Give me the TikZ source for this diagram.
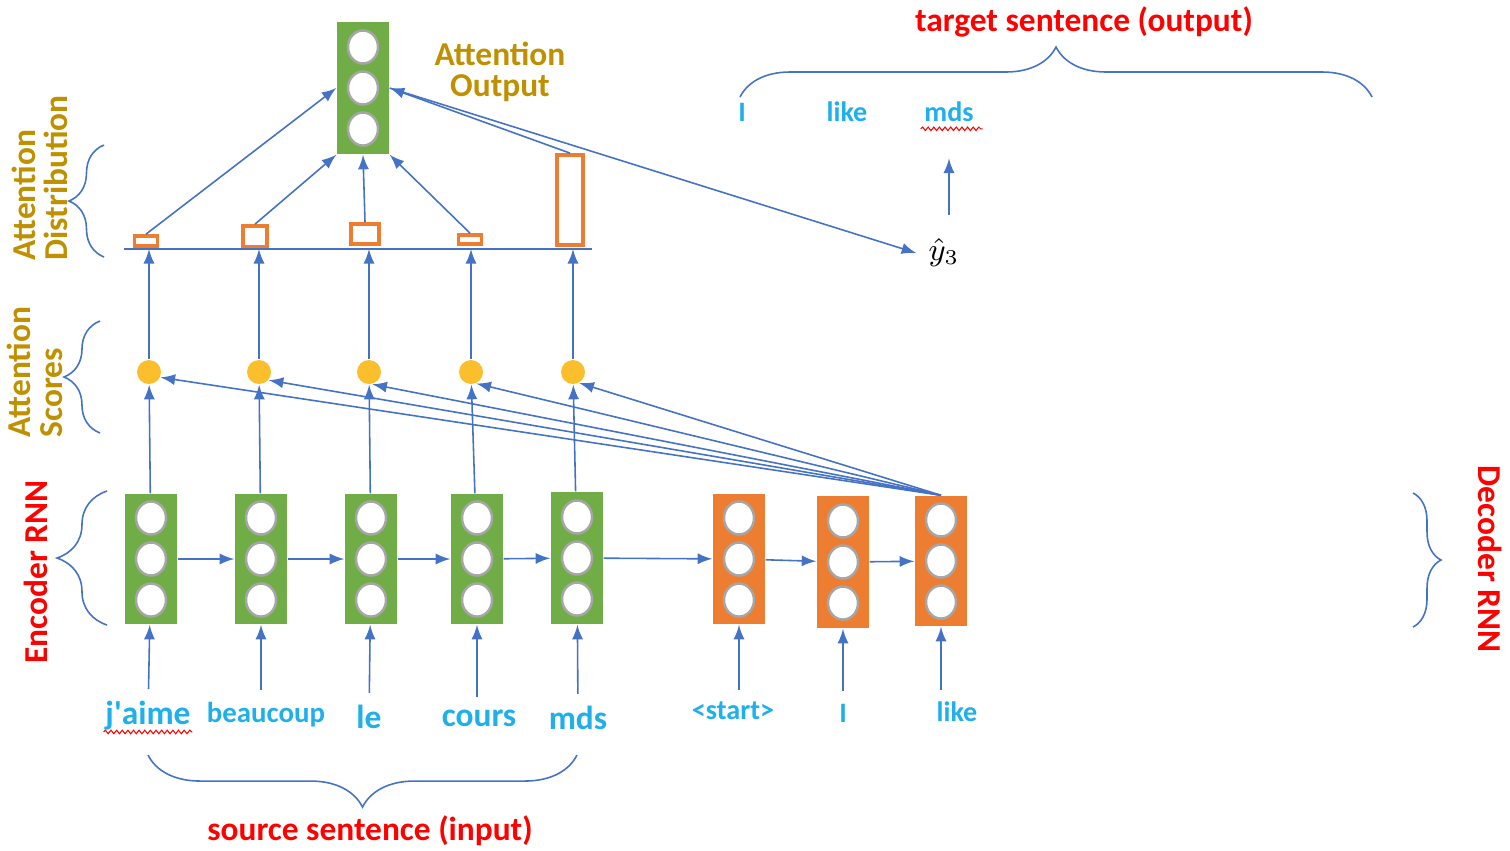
\documentclass[tikz,border=0pt]{standalone}
\usepackage{fontspec}
\setmainfont{Carlito}
\usetikzlibrary{decorations.pathreplacing,decorations.pathmorphing}
\definecolor{encgreen}{HTML}{70AD47}
\definecolor{decorange}{HTML}{ED7D31}
\definecolor{linkblue}{HTML}{4472C4}
\definecolor{wordblue}{HTML}{1FB0EC}
\definecolor{headgold}{HTML}{BF9000}
\definecolor{scoreyellow}{HTML}{FBBF2D}
\definecolor{ringgray}{HTML}{A6A6A6}
\definecolor{labelred}{HTML}{FF0000}

\begin{document}
\begin{tikzpicture}[x=0.01cm,y=-0.01cm,
    link/.style={linkblue, line width=0.45pt, -latex},
    bracket/.style={linkblue, line width=0.45pt, decorate, decoration={brace, amplitude=#1}},
    cellbase/.style={minimum width=0.52cm, minimum height=1.3cm, inner sep=0pt,
      path picture={
        \draw[ringgray, fill=white, line width=0.7pt] ([yshift=0.41cm]path picture bounding box.center) ellipse (0.15cm and 0.165cm);
        \draw[ringgray, fill=white, line width=0.7pt] (path picture bounding box.center) ellipse (0.15cm and 0.165cm);
        \draw[ringgray, fill=white, line width=0.7pt] ([yshift=-0.41cm]path picture bounding box.center) ellipse (0.15cm and 0.165cm);
      }},
    enccell/.style={cellbase, fill=encgreen},
    deccell/.style={cellbase, fill=decorange},
    score/.style={circle, fill=scoreyellow, minimum width=0.24cm, inner sep=0pt},
    attbar/.style={draw=decorange, line width=1.1pt, fill=white, inner sep=0pt, anchor=south},
    word/.style={wordblue, font=\bfseries\fontsize{9.5}{11}\selectfont},
    smallword/.style={wordblue, font=\bfseries\fontsize{8}{10}\selectfont},
    headline/.style={headgold, font=\bfseries\fontsize{9.5}{10.5}\selectfont, align=left},
    redline/.style={labelred, font=\bfseries\fontsize{9.5}{11}\selectfont},
    squiggle/.style={labelred, line width=0.3pt, decorate, decoration={snake, amplitude=0.5pt, segment length=1.6pt}}]
    \useasboundingbox (0,0) rectangle (1510,850);
    \coordinate (BaseL) at (124,249);
    \coordinate (BaseR) at (592,249);
    % encoder and decoder
    \node[enccell] (e1) at (151,559) {};
    \node[enccell] (e2) at (261,559) {};
    \node[enccell] (e3) at (371,559) {};
    \node[enccell] (e4) at (477,559) {};
    \node[enccell, minimum height=1.32cm] (e5) at (577,558) {};
    \node[deccell] (d1) at (739,559) {};
    \node[deccell, minimum height=1.32cm] (d2) at (843,562) {};
    \node[deccell] (d3) at (941,561) {};
    \node[enccell, minimum height=1.32cm] (out) at (363,88) {};
    % attention scores and distribution
    \node[score] (s1) at (149,372) {};
    \node[score] (s2) at (259,372) {};
    \node[score] (s3) at (369,372) {};
    \node[score] (s4) at (471,372) {};
    \node[score] (s5) at (573,372) {};
    \node[attbar, minimum width=0.23cm, minimum height=0.1cm] (a1) at (146,248) {};
    \node[attbar, minimum width=0.24cm, minimum height=0.21cm] (a2) at (255,249) {};
    \node[attbar, minimum width=0.28cm, minimum height=0.2cm] (a3) at (365,246) {};
    \node[attbar, minimum width=0.23cm, minimum height=0.09cm] (a4) at (470,246) {};
    \node[attbar, minimum width=0.26cm, minimum height=0.9cm] (a5) at (570,247) {};
    \draw[linkblue, line width=0.6pt] (BaseL) -- (BaseR);% Draw baseline
    % words
    \node[word] (w1) at (148,716) {j\textquotesingle aime};
    \node[smallword, font=\bfseries\fontsize{8.2}{10}\selectfont] (w2) at (266,715) {beaucoup};
    \node[word] (w3) at (369,717) {le};
    \node[word] (w4) at (479,718) {cours};
    \node[word] (w5) at (578,718) {mds};
    \node[smallword] (v1) at (733,711) {<start>};
    \node[smallword] (v2) at (843,713) {I};
    \node[smallword] (v3) at (957,712) {like};
    \node[smallword] (t1) at (742,112) {I};
    \node[smallword] (t2) at (847,112) {like};
    \node[smallword] (t3) at (949,112) {mds};
    \node[font=\fontsize{9}{10}\selectfont] (yhat) at (944,253) {$\hat{y}_3$};
    \draw[squiggle] ([xshift=3pt,yshift=-2pt]w1.base west) -- ([xshift=-3pt,yshift=-2pt]w1.base east);
    \draw[squiggle] ([xshift=2.5pt,yshift=-2pt]t3.base west) -- ([xshift=-1pt,yshift=-2pt]t3.base east);
    % labels
    \node[headline, align=center] (outlabel) at (500,72) {Attention\\[-1.5pt]Output};
    \node[headline, rotate=90] (distlabel) at (40,178) {Attention\\[-1.5pt]Distribution};
    \node[headline, rotate=90] (scorelabel) at (35,372) {Attention\\[-1.5pt]Scores};
    \node[redline, rotate=90] (enclabel) at (36,572) {Encoder RNN};
    \node[redline, rotate=-90] (declabel) at (1490,559) {Decoder RNN};
    \node[redline] (srclabel) at (370,831) {source sentence (input)};
    \node[redline] (tgtlabel) at (1084,22) {target sentence (output)};
    % braces
    \draw[bracket=0.35cm] (104,257) -- (104,145);
    \draw[bracket=0.36cm] (100,433) -- (100,321);
    \draw[bracket=0.5cm] (107,625) -- (107,491);
    \draw[bracket=0.28cm] (1413,493) -- (1413,627);
    \draw[bracket=0.5cm] (740,97) -- (1372,97);
    \draw[bracket=0.52cm] (577,755) -- (148,755);
    % recurrent links
    \draw[link] (e1) -- (e2);
    \draw[link] (e2) -- (e3);
    \draw[link] (e3) -- (e4);
    \draw[link] (e4) -- (e5);
    \draw[link] (e5) -- (d1);
    \draw[link] (d1) -- (d2);
    \draw[link] (d2) -- (d3);
    \draw[link] (w1) -- (e1);
    \draw[link] (w2.north -| e2) -- (e2);
    \draw[link] (w3) -- (e3);
    \draw[link] (w4.north -| e4) -- (e4);
    \draw[link] (w5) -- (e5);
    \draw[link] (v1.north -| d1) -- (d1);
    \draw[link] (v2) -- (d2);
    \draw[link] (v3.north -| d3) -- (d3);
    % attention
    \draw[link] (e1) -- (s1);
    \draw[link] (e2) -- (s2);
    \draw[link] (e3) -- (s3);
    \draw[link] (e4) -- (s4);
    \draw[link] (e5) -- (s5);
    \draw[link] (d3.north) -- (s1.-25);
    \draw[link] (d3.north) -- (s2.-40);
    \draw[link] (d3.north) -- (s3.-75);
    \draw[link] (d3.north) -- (s4.-65);
    \draw[link] (d3.north) -- (s5.-60);
    \draw[link] (s1) -- (s1 |- BaseL);
    \draw[link] (s2) -- (s2 |- BaseL);
    \draw[link] (s3) -- (s3 |- BaseL);
    \draw[link] (s4) -- (s4 |- BaseL);
    \draw[link] (s5) -- (s5 |- BaseL);
    \draw[link] (a1.north) -- (out.west);
    \draw[link] (a2.north) -- (out.south west);
    \draw[link] (a3.north) -- (out.south);
    \draw[link] (a4.north) -- (out.south east);
    \draw[link] (a5.north) -- (out.east);
    \draw[link] (out.east) -- (yhat.west);
    \draw[link, shorten <=0.12cm, shorten >=0.24cm] (yhat.north -| t3) -- (t3);
  \end{tikzpicture}
\end{document}
